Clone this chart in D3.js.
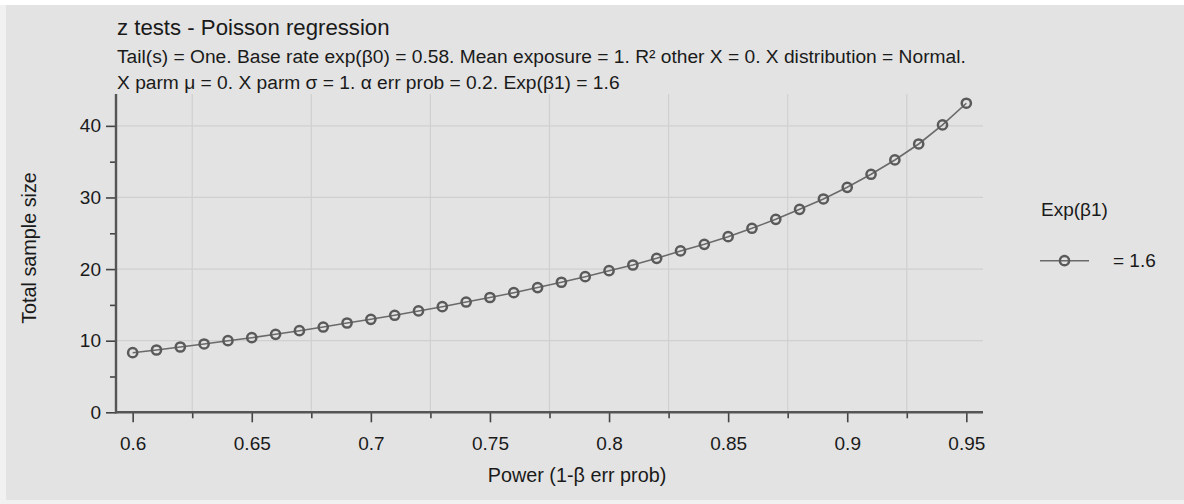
<!DOCTYPE html>
<html>
<head>
<meta charset="utf-8">
<script src="https://cdn.jsdelivr.net/npm/d3@7/dist/d3.min.js"></script>
<style>
  html, body { margin: 0; padding: 0; background: #f1f1f1; }
  svg { display: block; }
  text { font-family: "Liberation Sans", Arial, Helvetica, sans-serif; fill: #1a1a1a; }
</style>
</head>
<body>
<svg id="chart" width="1184" height="504"></svg>
<script>
// ---- data ----
const power = [0.60, 0.61, 0.62, 0.63, 0.64, 0.65, 0.66, 0.67, 0.68, 0.69,
               0.70, 0.71, 0.72, 0.73, 0.74, 0.75, 0.76, 0.77, 0.78, 0.79,
               0.80, 0.81, 0.82, 0.83, 0.84, 0.85, 0.86, 0.87, 0.88, 0.89,
               0.90, 0.91, 0.92, 0.93, 0.94, 0.95];
const sampleSize = [8.32, 8.70, 9.12, 9.54, 10.00, 10.42, 10.89, 11.40, 11.91, 12.47,
                    12.99, 13.55, 14.15, 14.75, 15.40, 16.03, 16.70, 17.42, 18.16, 18.94,
                    19.78, 20.57, 21.50, 22.53, 23.46, 24.53, 25.70, 26.95, 28.35, 29.79,
                    31.42, 33.24, 35.24, 37.47, 40.13, 43.16];
const xTicks = [0.60, 0.65, 0.70, 0.75, 0.80, 0.85, 0.90, 0.95];
const xTickLabels = ["0.6", "0.65", "0.7", "0.75", "0.8", "0.85", "0.9", "0.95"];
const xMinorTicks = [0.625, 0.675, 0.725, 0.775, 0.825, 0.875, 0.925];
const yTicks = [0, 10, 20, 30, 40];
const yMinorTicks = [5, 15, 25, 35];
const titleText = "z tests - Poisson regression";
const subtitleLines = [
  "Tail(s) = One. Base rate exp(\u03B20) = 0.58. Mean exposure = 1. R\u00B2 other X = 0. X distribution = Normal.",
  "X parm \u03BC = 0. X parm \u03C3 = 1. \u03B1 err prob = 0.2. Exp(\u03B21) = 1.6"
];
const xLabel = "Power (1-\u03B2 err prob)";
const yLabel = "Total sample size";
const legendTitle = "Exp(\u03B21)";
const seriesName = "= 1.6";

// ---- layout ----
const svg = d3.select("#chart");
const L = 116, R = 983, T = 94, B = 412.3;
const x = d3.scaleLinear().domain([0.593, 0.957]).range([L, R]);
const y = d3.scaleLinear().domain([0, 44.45]).range([B, T]);

// backgrounds
svg.append("rect").attr("x", 0).attr("y", 0).attr("width", 1184).attr("height", 5).attr("fill", "#ffffff");
svg.append("rect").attr("x", 6).attr("y", 5).attr("width", 1178).attr("height", 495).attr("fill", "#e3e3e3");

// grid
const grid = svg.append("g").attr("stroke", "#d0d0d0").attr("stroke-width", 1.2);
grid.selectAll("line.v").data(xMinorTicks).join("line")
  .attr("x1", d => x(d)).attr("x2", d => x(d)).attr("y1", T).attr("y2", B);
grid.selectAll("line.h").data(yTicks.filter(d => d > 0)).join("line")
  .attr("x1", L).attr("x2", R).attr("y1", d => y(d)).attr("y2", d => y(d));

// x axis
const xAxisG = svg.append("g").attr("transform", `translate(0,${B})`);
xAxisG.call(d3.axisBottom(x).tickValues(xTicks).tickSize(10).tickPadding(14)
  .tickFormat((d, i) => xTickLabels[i]));
const xMinorG = svg.append("g").attr("transform", `translate(0,${B})`);
xMinorG.call(d3.axisBottom(x).tickValues(xMinorTicks).tickSize(6).tickFormat(""));
// y axis
const yAxisG = svg.append("g").attr("transform", `translate(${L},0)`);
yAxisG.call(d3.axisLeft(y).tickValues(yTicks).tickSize(10).tickPadding(5).tickFormat(d3.format("d")));
const yMinorG = svg.append("g").attr("transform", `translate(${L},0)`);
yMinorG.call(d3.axisLeft(y).tickValues(yMinorTicks).tickSize(6).tickFormat(""));

[xAxisG, xMinorG, yAxisG, yMinorG].forEach(g => {
  g.selectAll(".domain").remove();
  g.selectAll(".tick line").attr("stroke", "#444").attr("stroke-width", 1.6);
  g.selectAll(".tick text").attr("font-size", 19).attr("fill", "#1a1a1a")
    .style("font-family", "'Liberation Sans', Arial, sans-serif");
});
// axis lines
svg.append("line").attr("x1", L).attr("x2", R).attr("y1", B).attr("y2", B)
  .attr("stroke", "#555").attr("stroke-width", 2.4);
svg.append("line").attr("x1", L).attr("x2", L).attr("y1", T).attr("y2", B + 1.2)
  .attr("stroke", "#555").attr("stroke-width", 2.4);

// series
const pts = power.map((p, i) => ({ p, n: sampleSize[i] }));
svg.append("path").datum(pts)
  .attr("fill", "none").attr("stroke", "#6a6a6a").attr("stroke-width", 1.6)
  .attr("d", d3.line().x(d => x(d.p)).y(d => y(d.n)));
svg.append("g").selectAll("circle").data(pts).join("circle")
  .attr("cx", d => x(d.p)).attr("cy", d => y(d.n)).attr("r", 4.6)
  .attr("fill", "none").attr("stroke", "#5a5a5a").attr("stroke-width", 2.5);

// titles
svg.append("text").attr("x", 117).attr("y", 35).attr("font-size", 22.2).text(titleText);
subtitleLines.forEach((s, i) => {
  svg.append("text").attr("x", 117).attr("y", 63 + i * 26).attr("font-size", 19.2).text(s);
});

// axis labels
svg.append("text").attr("x", 577).attr("y", 482).attr("text-anchor", "middle")
  .attr("font-size", 19.8).text(xLabel);
svg.append("text").attr("transform", "translate(36,248) rotate(-90)")
  .attr("text-anchor", "middle").attr("font-size", 19.8).text(yLabel);

// legend
svg.append("text").attr("x", 1041).attr("y", 216).attr("font-size", 19).text(legendTitle);
svg.append("line").attr("x1", 1040).attr("x2", 1089).attr("y1", 260.7).attr("y2", 260.7)
  .attr("stroke", "#6a6a6a").attr("stroke-width", 1.6);
svg.append("circle").attr("cx", 1064.5).attr("cy", 260.7).attr("r", 4.6)
  .attr("fill", "none").attr("stroke", "#5a5a5a").attr("stroke-width", 2.5);
svg.append("text").attr("x", 1113).attr("y", 267).attr("font-size", 19).text(seriesName);
</script>
</body>
</html>
